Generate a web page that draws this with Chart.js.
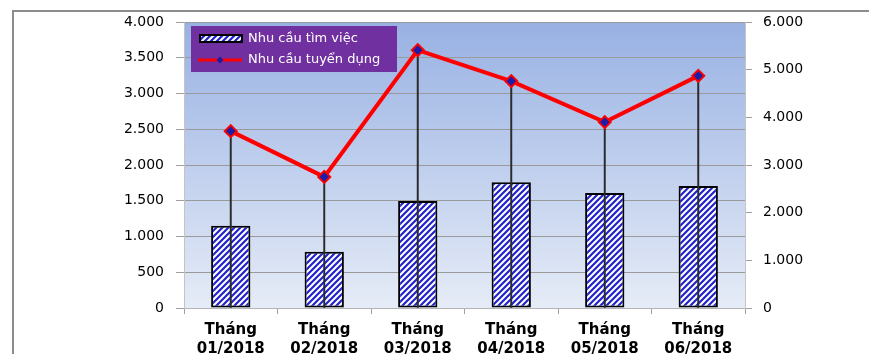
<!DOCTYPE html>
<html>
<head>
<meta charset="utf-8">
<script src="https://cdn.jsdelivr.net/npm/chart.js@4.4.1/dist/chart.umd.min.js"></script>
<style>
  html, body { margin: 0; padding: 0; background: #ffffff; }
  #wrap { width: 869px; height: 354px; }
</style>
</head>
<body>
<div id="wrap"><canvas id="chart" width="869" height="354"></canvas></div>
<script>
// Months shown on the category axis (drawn as "Tháng" + month/year)
const months = ['01/2018', '02/2018', '03/2018', '04/2018', '05/2018', '06/2018'];
// Job seekers (left axis)
const jobSeekers = [1150, 785, 1495, 1760, 1610, 1705];
// Hiring demand (right axis)
const hiringDemand = [3710, 2750, 5410, 4760, 3900, 4870];

const seriesNames = ['Nhu cầu tìm việc', 'Nhu cầu tuyển dụng'];
const leftAxis = { min: 0, max: 4000, step: 500 };
const rightAxis = { min: 0, max: 6000, step: 1000 };

const FONT = '"DejaVu Sans", Verdana, sans-serif';

function fmt(v) {
  return String(v).replace(/\B(?=(\d{3})+(?!\d))/g, '.');
}

// Blue diagonal hatch used for the bars
function makeHatch() {
  const c = document.createElement('canvas');
  c.width = 6; c.height = 6;
  const g = c.getContext('2d');
  g.fillStyle = '#ffffff';
  g.fillRect(0, 0, 6, 6);
  g.strokeStyle = '#2222cc';
  g.lineWidth = 2.2;
  g.beginPath();
  g.moveTo(-1, 7); g.lineTo(7, -1);
  g.moveTo(-4, 4); g.lineTo(4, -4);
  g.moveTo(2, 10); g.lineTo(10, 2);
  g.stroke();
  return g.createPattern(c, 'repeat');
}
const ctx = document.getElementById('chart').getContext('2d');
const hatch = makeHatch();

const lineColor = '#ff0000';
const markerFill = '#1c1ca8';

// Frame, plot-area gradient
const backdrop = {
  id: 'backdrop',
  beforeDraw(chart) {
    const c = chart.ctx, a = chart.chartArea;
    c.save();
    c.fillStyle = '#ffffff';
    c.fillRect(0, 0, chart.width, chart.height);
    const gr = c.createLinearGradient(0, a.top, 0, a.bottom);
    gr.addColorStop(0, '#98b1e3');
    gr.addColorStop(1, '#e6ecf7');
    c.fillStyle = gr;
    c.fillRect(a.left, a.top, a.right - a.left, a.bottom - a.top);
    c.strokeStyle = '#8c8c8c';
    c.lineWidth = 2;
    c.beginPath();
    c.moveTo(13, chart.height);
    c.lineTo(13, 11);
    c.lineTo(chart.width, 11);
    c.stroke();
    c.restore();
  }
};

// Legend box inside the plot area
const boxLegend = {
  id: 'boxLegend',
  afterDatasetsDraw(chart) {
    const c = chart.ctx, a = chart.chartArea;
    const x = a.left + 7, y = a.top + 4, w = 206, h = 46;
    c.save();
    c.fillStyle = '#7030a0';
    c.fillRect(x, y, w, h);
    // row 1: hatched swatch
    c.fillStyle = hatch;
    c.fillRect(x + 9, y + 9, 42, 7);
    c.strokeStyle = '#000000';
    c.lineWidth = 2;
    c.strokeRect(x + 9, y + 9, 42, 7);
    // row 2: line with marker
    const ly = y + 34;
    c.strokeStyle = lineColor;
    c.lineWidth = 3;
    c.beginPath();
    c.moveTo(x + 7, ly); c.lineTo(x + 51, ly);
    c.stroke();
    c.fillStyle = markerFill;
    c.beginPath();
    c.moveTo(x + 29, ly - 3.5); c.lineTo(x + 32.5, ly);
    c.lineTo(x + 29, ly + 3.5); c.lineTo(x + 25.5, ly);
    c.closePath();
    c.fill();
    // labels
    c.fillStyle = '#ffffff';
    c.font = '13px ' + FONT;
    c.textBaseline = 'middle';
    c.fillText(seriesNames[0], x + 57, y + 13);
    c.fillText(seriesNames[1], x + 57, ly);
    c.restore();
  }
};

new Chart(ctx, {
  type: 'bar',
  data: {
    labels: months.map(m => ['Tháng', m]),
    datasets: [
      {
        type: 'line',
        label: seriesNames[1],
        data: hiringDemand,
        yAxisID: 'y2',
        borderColor: lineColor,
        borderWidth: 4,
        pointStyle: 'rectRot',
        pointRadius: 6,
        pointBorderWidth: 2,
        pointBorderColor: lineColor,
        pointBackgroundColor: markerFill,
        tension: 0,
        order: 0
      },
      {
        // drop lines from each marker to the category axis
        type: 'bar',
        label: 'drop',
        data: hiringDemand,
        yAxisID: 'y2',
        backgroundColor: '#2a2a2a',
        barThickness: 1.3,
        grouped: false,
        order: 1
      },
      {
        type: 'bar',
        label: seriesNames[0],
        data: jobSeekers,
        yAxisID: 'y',
        backgroundColor: hatch,
        borderColor: '#000000',
        borderWidth: 2,
        borderSkipped: false,
        categoryPercentage: 1,
        barPercentage: 0.42,
        grouped: false,
        order: 2
      }
    ]
  },
  options: {
    responsive: false,
    animation: false,
    devicePixelRatio: 1,
    layout: { padding: { top: 22, left: 0, right: 0, bottom: 0 } },
    plugins: { legend: { display: false }, tooltip: { enabled: false } },
    scales: {
      x: {
        offset: true,
        grid: { offset: true, drawOnChartArea: false, tickLength: 6, color: '#a0a0a0' },
        border: { display: true, color: '#b4b4b4' },
        ticks: { color: '#000000', padding: 6, font: { family: FONT, size: 15, weight: 'bold', lineHeight: 1.3 }, maxRotation: 0 },
        afterFit(s) { s.height = 46; }
      },
      y: {
        position: 'left',
        min: leftAxis.min, max: leftAxis.max,
        grid: { color: '#9a9a9a', tickLength: 8, tickColor: '#a0a0a0' },
        border: { display: true, color: '#c4c4c4' },
        ticks: { stepSize: leftAxis.step, color: '#000000', padding: 12, font: { family: FONT, size: 14 }, callback: v => fmt(v) },
        afterFit(s) { s.width = 184; }
      },
      y2: {
        position: 'right',
        min: rightAxis.min, max: rightAxis.max,
        grid: { drawOnChartArea: false, tickLength: 7, color: '#a0a0a0' },
        border: { display: true, color: '#c4c4c4' },
        ticks: { stepSize: rightAxis.step, color: '#000000', padding: 11, font: { family: FONT, size: 14 }, callback: v => fmt(v) },
        afterFit(s) { s.width = 124; }
      }
    }
  },
  plugins: [backdrop, boxLegend]
});
</script>
</body>
</html>
